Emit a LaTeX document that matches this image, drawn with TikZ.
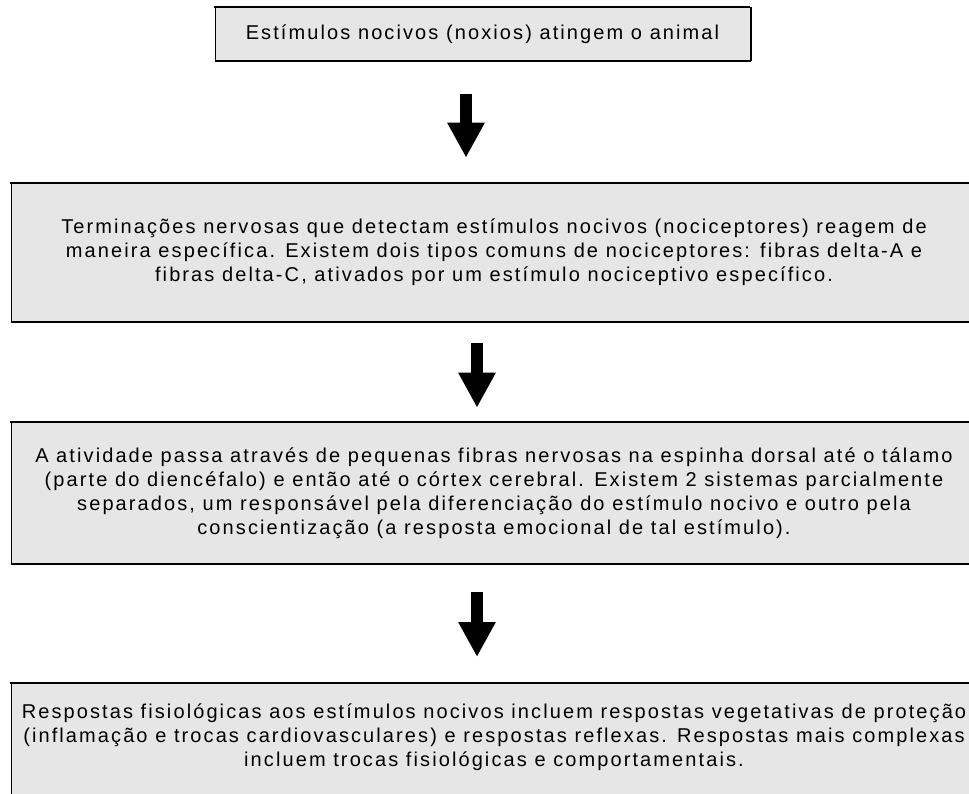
\documentclass[tikz,border=0pt]{standalone}
\usepackage{fontspec}
\setmainfont{Liberation Sans}[LetterSpace=10.5]
\usetikzlibrary{arrows.meta}
\definecolor{boxgray}{HTML}{E6E6E6}
\tikzset{
  stagebox/.style={draw=black, line width=0.6pt, fill=boxgray, align=center,
    inner sep=0pt, font=\fontsize{20}{24}\selectfont},
  downarrow/.style={line width=12pt, -{Triangle[width=35pt,length=35pt]}}
}

\begin{document}
\begin{tikzpicture}[x=1pt,y=-1pt]
  \useasboundingbox (0,0) rectangle (969,794);
  \clip (0,0) rectangle (969,794);

  \node[stagebox, minimum width=535pt, minimum height=54pt] (stim) at (482.5,34)
    {Estímulos nocivos (noxios) atingem o animal};
  \node[stagebox, minimum width=966pt, minimum height=139pt] (term) at (494,252.5)
    {Terminações nervosas que detectam estímulos nocivos (nociceptores) reagem de\\
     maneira específica. Existem dois tipos comuns de nociceptores: fibras delta-A e\\
     fibras delta-C, ativados por um estímulo nociceptivo específico.};
  \node[stagebox, minimum width=966pt, minimum height=142pt] (ativ) at (494,493)
    {A atividade passa através de pequenas fibras nervosas na espinha dorsal até o tálamo\\
     (parte do diencéfalo) e então até o córtex cerebral. Existem 2 sistemas parcialmente\\
     separados, um responsável pela diferenciação do estímulo nocivo e outro pela\\
     conscientização (a resposta emocional de tal estímulo).};
  \node[stagebox, minimum width=966pt, anchor=north, inner ysep=20pt, text depth=110pt] (resp) at (494,683)
    {Respostas fisiológicas aos estímulos nocivos incluem respostas vegetativas de proteção\\
     (inflamação e trocas cardiovasculares) e respostas reflexas. Respostas mais complexas\\
     incluem trocas fisiológicas e comportamentais.};

  % heavier top and bottom edges
  \foreach \n in {stim,term,ativ,resp}{
    \draw[line width=1.8pt] ([xshift=-1pt]\n.north west) -- (\n.north east)
      (\n.south west) -- (\n.south east);
  }
  \draw[line width=1.8pt] ([xshift=0.6pt]stim.north east) -- ([xshift=0.6pt]stim.south east);

  \draw[downarrow, shorten <=33pt, shorten >=25pt] ([xshift=-16.5pt]stim.south) -- ([xshift=-16.5pt]stim.south |- term.north);
  \draw[downarrow, shorten <=21pt, shorten >=14pt] ([xshift=-17pt]term.south) -- ([xshift=-17pt]term.south |- ativ.north);
  \draw[downarrow, shorten <=28pt, shorten >=26pt] ([xshift=-17pt]ativ.south) -- ([xshift=-17pt]ativ.south |- resp.north);
\end{tikzpicture}
\end{document}
